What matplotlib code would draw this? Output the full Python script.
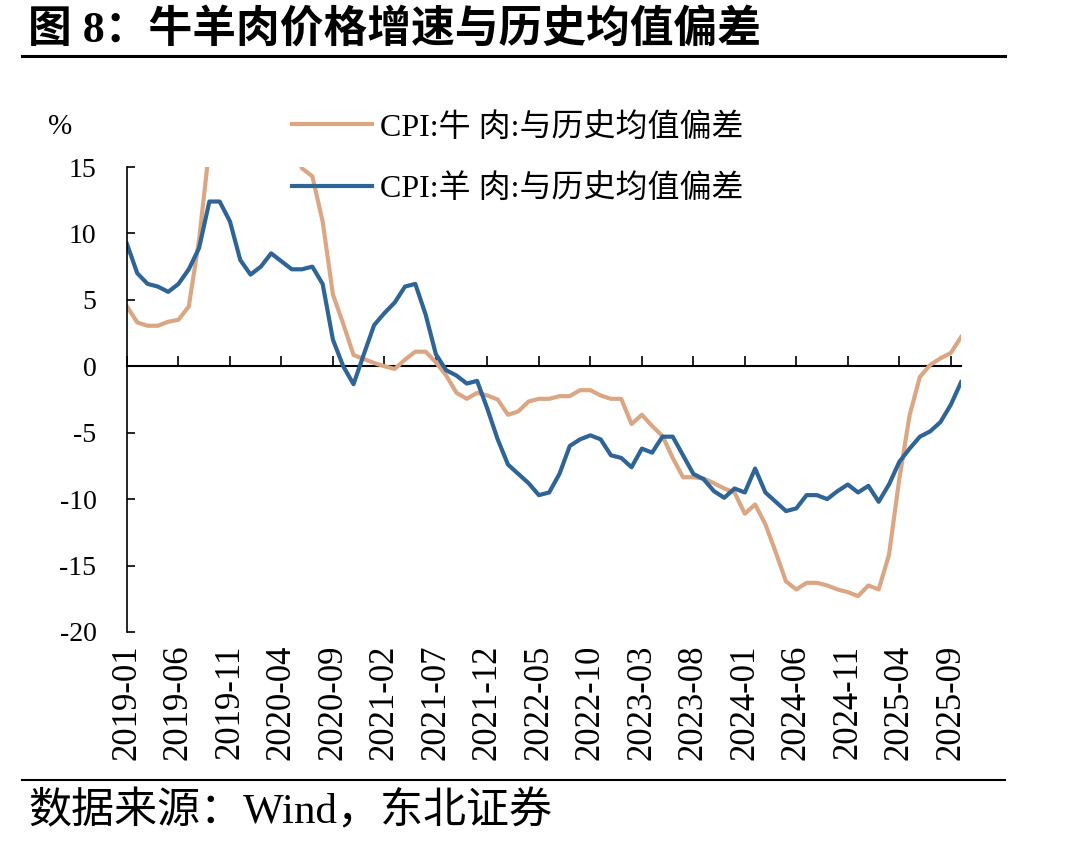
import matplotlib
matplotlib.use("Agg")
import matplotlib.pyplot as plt
from matplotlib.lines import Line2D
import pandas as pd

# monthly, 2019-01 .. 2025-10
months = pd.period_range("2019-01", periods=82, freq="M").strftime("%Y-%m").tolist()

# CPI: beef, deviation from historical mean (%)
beef = [4.5, 3.3, 3.05, 3.05, 3.35, 3.5, 4.5, 9.5, 16.5, 20.0,
        23.0, 25.0, 24.0, 23.0, 22.0, 20.0, 16.5, 14.9, 14.3, 10.9,
        5.4, 3.2, 0.85, 0.55, 0.25, 0.0, -0.2, 0.5, 1.1, 1.1,
        0.3, -0.7, -2.0, -2.45, -2.0, -2.2, -2.5, -3.65, -3.4, -2.65,
        -2.45, -2.45, -2.25, -2.25, -1.8, -1.8, -2.2, -2.45, -2.45, -4.35,
        -3.65, -4.5, -5.25, -6.9, -8.35, -8.35, -8.45, -8.8, -9.2, -9.5,
        -11.1, -10.4, -11.9, -14.0, -16.2, -16.8, -16.3, -16.3, -16.5, -16.8,
        -17.0, -17.3, -16.5, -16.8, -14.2, -8.5, -3.7, -0.8, 0.1, 0.6,
        1.0, 2.2]

# CPI: mutton, deviation from historical mean (%)
mutton = [9.2, 7.0, 6.2, 6.0, 5.6, 6.2, 7.3, 8.9, 12.4, 12.4,
          10.9, 8.0, 6.9, 7.5, 8.5, 7.9, 7.3, 7.3, 7.5, 6.2,
          2.0, 0.0, -1.35, 0.9, 3.1, 4.0, 4.8, 6.0, 6.2, 3.9,
          0.9, -0.3, -0.7, -1.3, -1.1, -3.2, -5.5, -7.4, -8.1, -8.8,
          -9.7, -9.5, -8.1, -6.0, -5.5, -5.2, -5.5, -6.7, -6.9, -7.6,
          -6.2, -6.5, -5.3, -5.3, -6.7, -8.1, -8.5, -9.4, -9.9, -9.2,
          -9.5, -7.7, -9.5, -10.2, -10.9, -10.7, -9.7, -9.7, -10.0, -9.4,
          -8.9, -9.5, -9.0, -10.2, -8.9, -7.2, -6.2, -5.3, -4.9, -4.2,
          -2.9, -1.2]

series_names = ["CPI:牛 肉:与历史均值偏差", "CPI:羊 肉:与历史均值偏差"]
colors = ["#DBA683", "#2E6496"]

fonts = ["Liberation Serif", "Noto Sans CJK SC", "DejaVu Sans"]
plt.rcParams["font.family"] = fonts
plt.rcParams["axes.unicode_minus"] = False

fig = plt.figure(figsize=(10.9, 8.46), dpi=100)
ax = fig.add_axes([0.1165, 0.2530, 0.7652, 0.5496])

x = list(range(len(months)))
ax.plot(x, beef, color=colors[0], lw=3.0, label=series_names[0])
ax.plot(x, mutton, color=colors[1], lw=3.0, label=series_names[1])

ax.set_xlim(0, len(months) - 1)
ax.set_ylim(-20, 15)
ax.set_yticks(range(-20, 16, 5))
ax.tick_params(axis="y", direction="in", length=6, width=1.2, labelsize=20, pad=22)

tick_pos = x[::5]
ax.set_xticks(tick_pos)
ax.set_xticklabels([months[i] for i in tick_pos], rotation=90, fontsize=25)
ax.tick_params(axis="x", length=0, pad=9)

for s in ["top", "right", "bottom"]:
    ax.spines[s].set_visible(False)
ax.spines["left"].set_linewidth(1.2)

# zero line with inward ticks
sec = ax.secondary_xaxis(0, transform=ax.transData)
sec.set_xticks(tick_pos)
sec.tick_params(axis="x", direction="in", length=7, width=1.2, labelbottom=False)
sec.spines["bottom"].set_linewidth(1.5)

fig.text(0.044, 0.85, "%", fontsize=21, va="center")

ax.legend(loc="upper left", bbox_to_anchor=(0.268, 0.867), bbox_transform=fig.transFigure,
          frameon=False, fontsize=23, handlelength=2.5, handletextpad=0.25,
          labelspacing=1.0, borderpad=0, borderaxespad=0)

# header / footer
fig.text(0.026, 0.965, "图 8：牛羊肉价格增速与历史均值偏差", fontsize=31.5,
         fontweight="bold", va="center", ha="left")
fig.add_artist(Line2D([0.02, 0.922], [0.934, 0.934], color="black", lw=2.2))
fig.add_artist(Line2D([0.02, 0.922], [0.078, 0.078], color="black", lw=1.5))
fig.text(0.026, 0.040, "数据来源：Wind，东北证券", fontsize=31, va="center", ha="left")

fig.savefig("out.png", dpi=100)
